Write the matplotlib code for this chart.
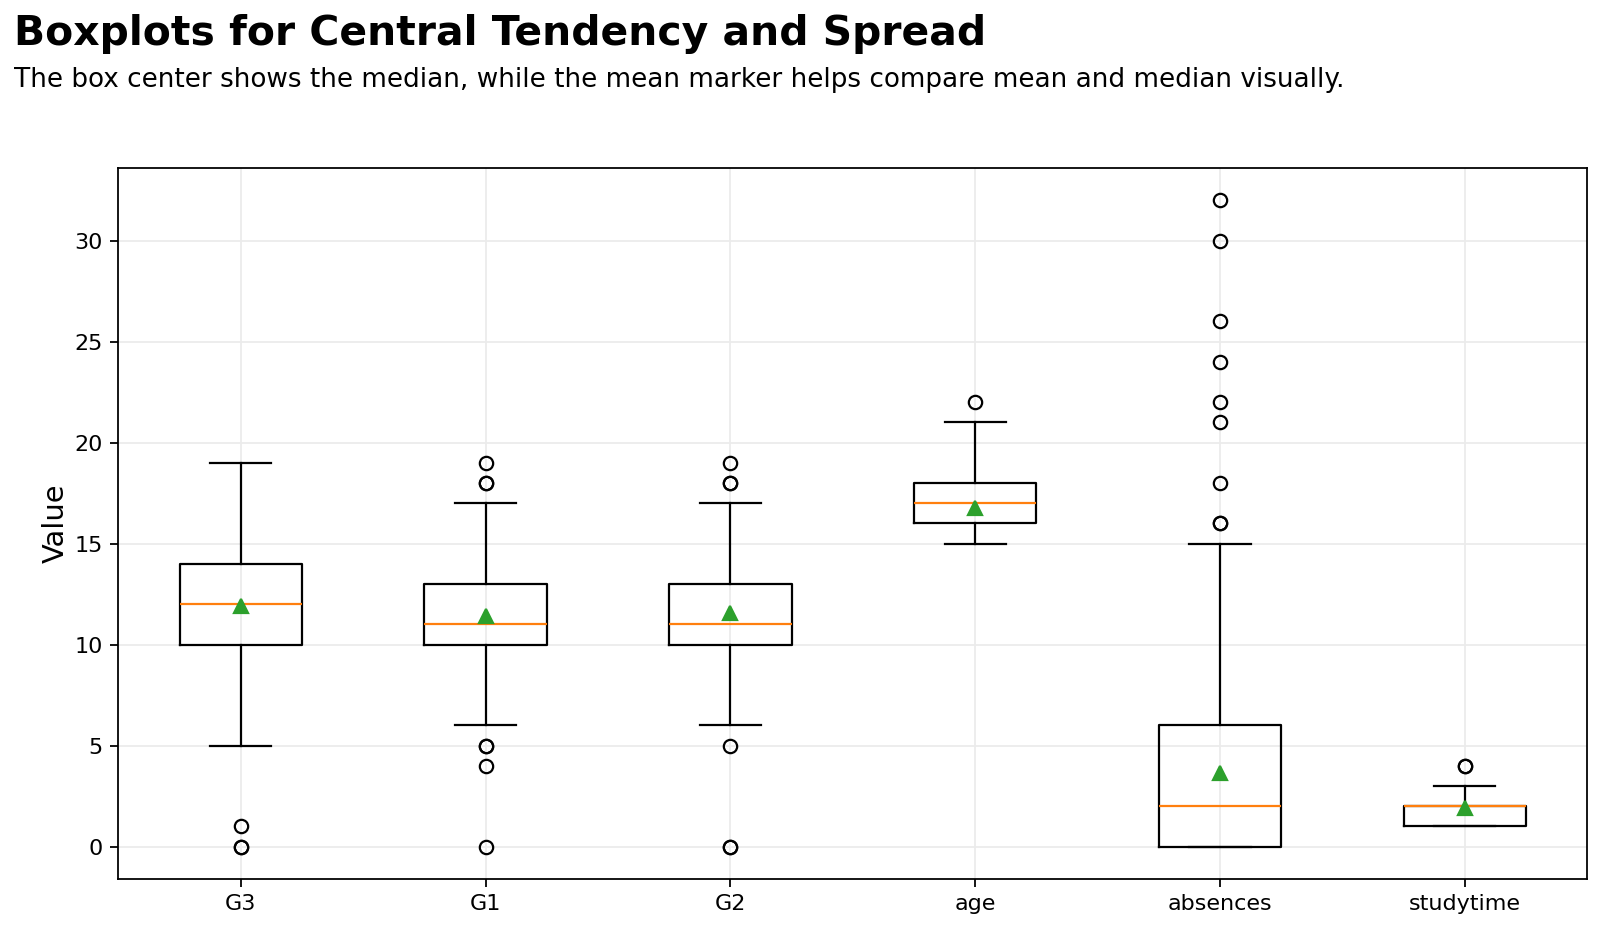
import matplotlib
matplotlib.use('Agg')
import matplotlib.pyplot as plt

# summary stats
labels = ['G3', 'G1', 'G2', 'age', 'absences', 'studytime']
q1 = [10, 10, 10, 16, 0, 1]
med = [12, 11, 11, 17, 2, 2]
q3 = [14, 13, 13, 18, 6, 2]
whislo = [5, 6, 6, 15, 0, 1]
whishi = [19, 17, 17, 21, 15, 3]
means = [11.91, 11.40, 11.57, 16.74, 3.66, 1.93]
fliers = [
    [0, 0, 1],
    [0, 4, 5, 5, 18, 18, 19],
    [0, 0, 5, 18, 18, 19],
    [22],
    [16, 16, 18, 21, 22, 24, 26, 30, 32],
    [4, 4],
]

stats = []
for i in range(len(labels)):
    stats.append(dict(label=labels[i], q1=q1[i], med=med[i], q3=q3[i],
                      whislo=whislo[i], whishi=whishi[i], mean=means[i],
                      fliers=fliers[i]))

fig = plt.figure(figsize=(10, 5.8), dpi=160)
ax = fig.add_axes([0.074, 0.053, 0.918, 0.766])
ax.bxp(stats, showmeans=True)
ax.grid(True, color='#ebebeb', linewidth=0.8)
ax.set_axisbelow(True)
ax.set_ylabel('Value', fontsize=13, labelpad=2)

fig.text(0.009, 0.985, 'Boxplots for Central Tendency and Spread',
         fontsize=18.4, fontweight='bold', va='top')
fig.text(0.009, 0.928, 'The box center shows the median, while the mean marker helps compare mean and median visually.',
         fontsize=11.8, va='top')

fig.savefig('out.png', dpi=160)
